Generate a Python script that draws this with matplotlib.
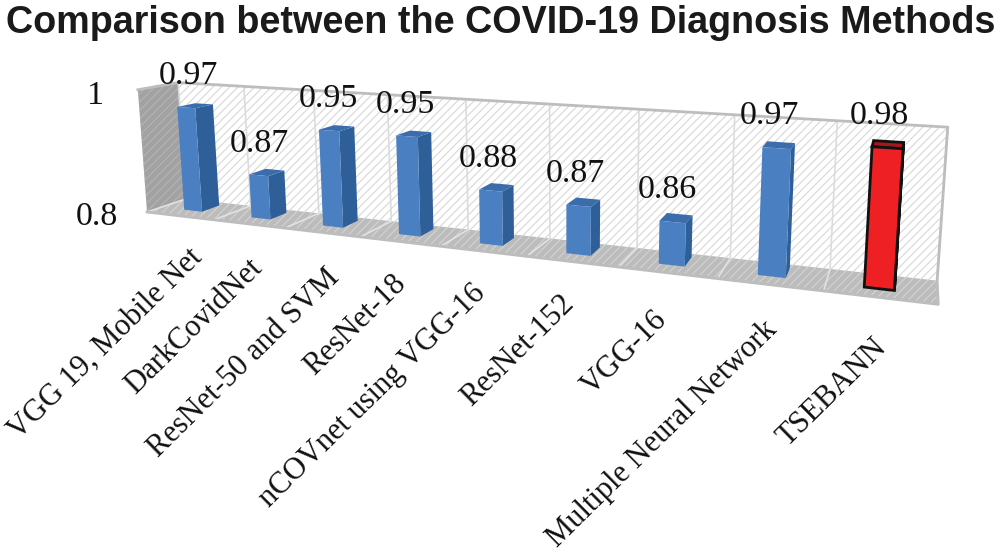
import numpy as np
import matplotlib
matplotlib.use("Agg")
import matplotlib.pyplot as plt
from matplotlib.patches import Polygon

title = "Comparison between the COVID-19 Diagnosis Methods"
categories = ["VGG 19, Mobile Net", "DarkCovidNet", "ResNet-50 and SVM", "ResNet-18",
              "nCOVnet using VGG-16", "ResNet-152", "VGG-16", "Multiple Neural Network", "TSEBANN"]
values = [0.97, 0.87, 0.95, 0.95, 0.88, 0.87, 0.86, 0.97, 0.98]
axis_min, axis_max = 0.8, 1.0
highlight = "TSEBANN"

# camera fit: (category position, height fraction, depth) -> pixel anchors of the 3D frame
anchors = [
    (0, 1, 1, 180, 83), (1, 1, 1, 245, 87), (2, 1, 1, 315, 91), (3, 1, 1, 387, 95), (4, 1, 1, 465, 99),
    (5, 1, 1, 548, 104), (6, 1, 1, 638, 109), (7, 1, 1, 737, 115), (8, 1, 1, 840, 121), (9, 1, 1, 945, 127),
    (0, 0, 1, 183, 200), (5, 0, 1, 550, 235), (6, 0, 1, 637, 247), (7, 0, 1, 730, 257), (8, 0, 1, 830, 270),
    (9, 0, 1, 938, 282), (0, 0, 0, 150, 213), (6, 0, 0, 620, 267), (7, 0, 0, 717, 278), (8, 0, 0, 823, 290),
    (9, 0, 0, 938, 307), (0, 1, 0, 135, 88),
]
rows = []
for u, v, w, x, y in anchors:
    X = np.array([u / 9, v, w, 1.0])
    rows.append(np.r_[X, np.zeros(4), -x / 1000 * X])
    rows.append(np.r_[np.zeros(4), X, -y / 1000 * X])
P = np.linalg.svd(np.array(rows))[2][-1].reshape(3, 4)


def proj(u, v, w):
    h = P @ np.array([u / 9, v, w, 1.0])
    return h[0] / h[2] * 1000, h[1] / h[2] * 1000


def frac(val):
    return (val - axis_min) / (axis_max - axis_min)


plt.rcParams["hatch.linewidth"] = 0.8
fig = plt.figure(figsize=(10, 5.53), dpi=100, facecolor="white")
ax = fig.add_axes([0, 0, 1, 1])
ax.set_xlim(0, 1000)
ax.set_ylim(553, 0)
ax.axis("off")

n = len(categories)
SERIF = "Liberation Serif"
PT = 0.72  # points per pixel


def quad(pts, **kw):
    ax.add_patch(Polygon([proj(*p) for p in pts], closed=True, **kw))


# walls and floor
quad([(0, 0, 1), (n, 0, 1), (n, 1, 1), (0, 1, 1)], facecolor="white", edgecolor="#d8d8d8", hatch="////", lw=0, zorder=1)
quad([(0, 0, 0), (0, 0, 1), (0, 1, 1), (0, 1, 0)], facecolor="#a2a2a2", edgecolor="#b4b4b4", hatch="////", lw=0, zorder=2)
quad([(0, 0, 0), (n, 0, 0), (n, 0, 1), (0, 0, 1)], facecolor="#bcbcbc", edgecolor="#d4d4d4", hatch="////", lw=0, zorder=2)
for i in range(n + 1):
    ax.plot(*zip(proj(i, 0, 1), proj(i, 1, 1)), color="#dcdcdc", lw=1.2, zorder=3)
    ax.plot(*zip(proj(i, 0, 0), proj(i, 0, 1)), color="#e2e2e2", lw=1.2, zorder=3)
ax.plot(*zip(proj(0, 1, 0), proj(0, 1, 1), proj(n, 1, 1), proj(n, 0, 1), proj(n, 0, 0), proj(0, 0, 0)),
        color="#bdbdbd", lw=2, zorder=4)

# bars
U0, U1, W0, W1 = 0.35, 0.62, 0.36, 0.82
label_dx = [8, -1, 3, -8, -12, -13, -15, -7, -8]
label_dy = [-6, -3, -2, -6, -5, -5, 0, -2, 2]
for i, (name, val) in enumerate(zip(categories, values)):
    v = frac(val)
    a, b = i + U0, i + U1
    hot = name == highlight
    front, side, top = ("#ee2024", "#a81a1e", "#a8161c") if hot else ("#4a7fc1", "#2f5f98", "#3b6cab")
    kw = dict(edgecolor="#111111", lw=2) if hot else dict(edgecolor="none", lw=0)
    quad([(b, 0, W0), (b, 0, W1), (b, v, W1), (b, v, W0)], facecolor=side, zorder=5, **kw)
    quad([(a, v, W0), (b, v, W0), (b, v, W1), (a, v, W1)], facecolor=top, zorder=5, **kw)
    quad([(a, 0, W0), (b, 0, W0), (b, v, W0), (a, v, W0)], facecolor=front, zorder=6, **kw)
    cx, cy = proj(a, v, W0)
    off = 11 - 0.5 * i
    ax.annotate(f"{val:.2f}", (cx, cy), xytext=(off * PT, 31 * PT), textcoords="offset points", ha="center", va="center",
                family=SERIF, fontsize=24.5, color="#111111", zorder=8, annotation_clip=False)
    lx, ly = proj(i + 0.5, 0, 0)
    ax.annotate(name, (lx, ly), xytext=(label_dx[i] * PT, (-33 - label_dy[i]) * PT), textcoords="offset points",
                rotation=44.5, rotation_mode="anchor", ha="right", va="top", family=SERIF, fontsize=22,
                color="#111111", zorder=8, annotation_clip=False)

# value axis
for val, txt, dx, dy in zip([axis_max, axis_min], ["1", "0.8"], [-42, -50], [-6, -5]):
    x, y = proj(0, frac(val), 0)
    ax.annotate(txt, (x, y), xytext=(dx * PT, dy * PT), textcoords="offset points", ha="center", va="center",
                family=SERIF, fontsize=24.5, color="#111111", zorder=8, annotation_clip=False)

ax.text(501, 23, title, ha="center", va="center", family="Liberation Sans", fontweight="bold",
        fontsize=27.2, color="#1a1a1a", zorder=8)
fig.savefig("out.png", dpi=100, facecolor="white")
